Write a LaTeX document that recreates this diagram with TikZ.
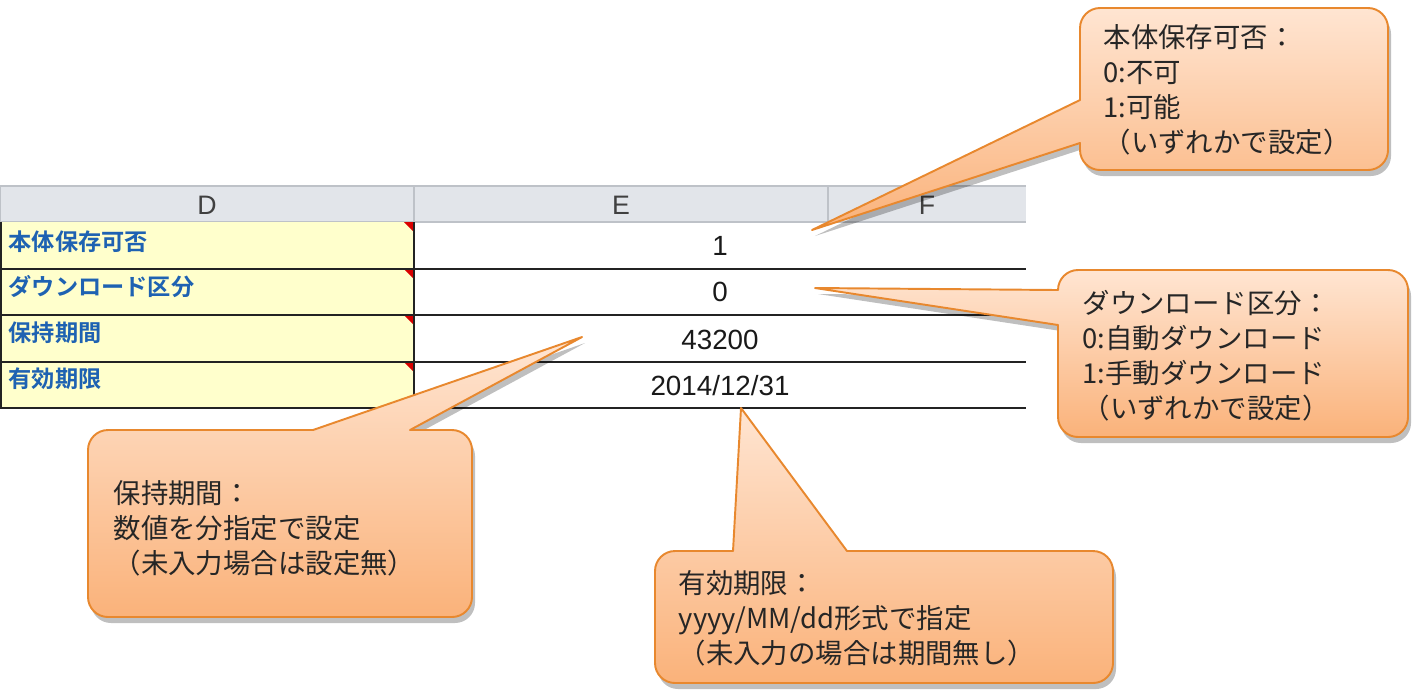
\documentclass[tikz,border=0pt]{standalone}
\usepackage{fontspec}
\newfontfamily\jpfont{Noto Sans CJK JP}[BoldFont={Noto Sans CJK JP Bold}]
\newfontfamily\cellfont{Liberation Sans}
\usetikzlibrary{shadows}
\definecolor{hdrfill}{RGB}{226,229,234}
\definecolor{hdrline}{RGB}{190,194,200}
\definecolor{gridline}{RGB}{35,35,35}
\definecolor{dfill}{RGB}{255,255,204}
\definecolor{lblblue}{RGB}{30,98,178}
\definecolor{notetop}{RGB}{255,229,210}
\definecolor{notebot}{RGB}{250,178,122}
\definecolor{noteline}{RGB}{232,136,46}
\definecolor{notetext}{RGB}{38,38,38}

\begin{document}
\begin{tikzpicture}[x=0.1mm,y=0.1mm]
    % styles
    \tikzset{
        colhead/.style={font=\cellfont\fontsize{7.6pt}{9pt}\selectfont,text=black!75,inner sep=0pt},
        rowlabel/.style={anchor=west,inner sep=0pt,text=lblblue,font=\jpfont\bfseries\fontsize{6.6pt}{8pt}\selectfont},
        cellval/.style={inner sep=0pt,text=black!90,font=\cellfont\fontsize{7.9pt}{9pt}\selectfont},
        grid/.style={gridline,line width=0.57pt},
        redmark/.style={fill=red!85!black},
        balloon/.style={top color=notetop,bottom color=notebot,draw=noteline,line width=0.55pt,line join=round,
            drop shadow={shadow xshift=0.3mm,shadow yshift=-0.6mm,opacity=0.25,fill=black}},
        note/.style={anchor=north west,align=left,inner sep=0pt,text=notetext,font=\jpfont\fontsize{7.8pt}{9.96pt}\selectfont}
    }
    \useasboundingbox (0,0) rectangle (1417,-697);

    % header row
    \fill[hdrfill] (0,-186) rectangle (1026,-222);
    \draw[hdrline] (0,-222) -- (0,-186) -- (1026,-186);
    \draw[hdrline] (414,-186) -- (414,-222);
    \draw[hdrline] (828,-186) -- (828,-222);
    \draw[hdrline] (0,-222) -- (1026,-222);
    \node[colhead] (hD) at (207,-205) {D};
    \node[colhead] (hE) at (621,-205) {E};
    \node[colhead] (hF) at (927,-205) {F};

    % column D cells
    \fill[dfill] (0,-222) rectangle (414,-408);
    \fill[redmark] (404,-222) -- (414,-222) -- (414,-232) -- cycle;
    \fill[redmark] (404,-269) -- (414,-269) -- (414,-279) -- cycle;
    \fill[redmark] (404,-315) -- (414,-315) -- (414,-325) -- cycle;
    \fill[redmark] (404,-362) -- (414,-362) -- (414,-372) -- cycle;

    % grid lines
    \draw[grid] (1,-222) -- (1,-408);
    \draw[grid] (414,-222) -- (414,-408);
    \draw[grid] (0,-268.5) -- (1026,-268.5);
    \draw[grid] (0,-315) -- (1026,-315);
    \draw[grid] (0,-361.5) -- (1026,-361.5);
    \draw[grid] (0,-408) -- (1026,-408);

    % row labels
    \node[rowlabel] (l1) at (8,-242) {本体保存可否};
    \node[rowlabel] (l2) at (8,-287) {ダウンロード区分};
    \node[rowlabel] (l3) at (8,-333) {保持期間};
    \node[rowlabel] (l4) at (8,-379) {有効期限};

    % values (merged E:F)
    \node[cellval] (v1) at (720,-246) {1};
    \node[cellval] (v2) at (720,-292) {0};
    \node[cellval] (v3) at (720,-340) {43200};
    \node[cellval] (v4) at (720,-386) {2014/12/31};

    % callout tips
    \coordinate (t1) at (812,-230);
    \coordinate (t2) at (815,-288);
    \coordinate (t3) at (582,-337);
    \coordinate (t4) at (741,-408);

    % callouts
    \draw[balloon] (1100,-8) -- (1368,-8) arc[start angle=90,end angle=0,radius=20]
        -- (1388,-150) arc[start angle=0,end angle=-90,radius=20]
        -- (1100,-170) arc[start angle=270,end angle=180,radius=20]
        -- (1080,-143) -- (t1) -- (1080,-100)
        -- (1080,-28) arc[start angle=180,end angle=90,radius=20] -- cycle;
    \draw[balloon] (1078,-270) -- (1388,-270) arc[start angle=90,end angle=0,radius=20]
        -- (1408,-417) arc[start angle=0,end angle=-90,radius=20]
        -- (1078,-437) arc[start angle=270,end angle=180,radius=20]
        -- (1058,-325) -- (t2)
        -- (1058,-290) arc[start angle=180,end angle=90,radius=20] -- cycle;
    \draw[balloon] (108,-430) -- (313,-430) -- (t3) -- (410,-430)
        -- (452,-430) arc[start angle=90,end angle=0,radius=20]
        -- (472,-597) arc[start angle=0,end angle=-90,radius=20]
        -- (108,-617) arc[start angle=270,end angle=180,radius=20]
        -- (88,-450) arc[start angle=180,end angle=90,radius=20] -- cycle;
    \draw[balloon] (675,-551) -- (733,-551) -- (t4) -- (847,-551)
        -- (1093,-551) arc[start angle=90,end angle=0,radius=20]
        -- (1113,-663) arc[start angle=0,end angle=-90,radius=20]
        -- (675,-683) arc[start angle=270,end angle=180,radius=20]
        -- (655,-571) arc[start angle=180,end angle=90,radius=20] -- cycle;

    % callout texts
    \node[note] (n1) at (1103,-24) {本体保存可否：\\0:不可\\1:可能\\（いずれかで設定）};
    \node[note] (n2) at (1082,-290) {ダウンロード区分：\\0:自動ダウンロード\\1:手動ダウンロード\\（いずれかで設定）};
    \node[note] (n3) at (113,-480) {保持期間：\\数値を分指定で設定\\（未入力場合は設定無）};
    \node[note] (n4) at (678,-570) {有効期限：\\yyyy/MM/dd形式で指定\\（未入力の場合は期間無し）};
\end{tikzpicture}
\end{document}
